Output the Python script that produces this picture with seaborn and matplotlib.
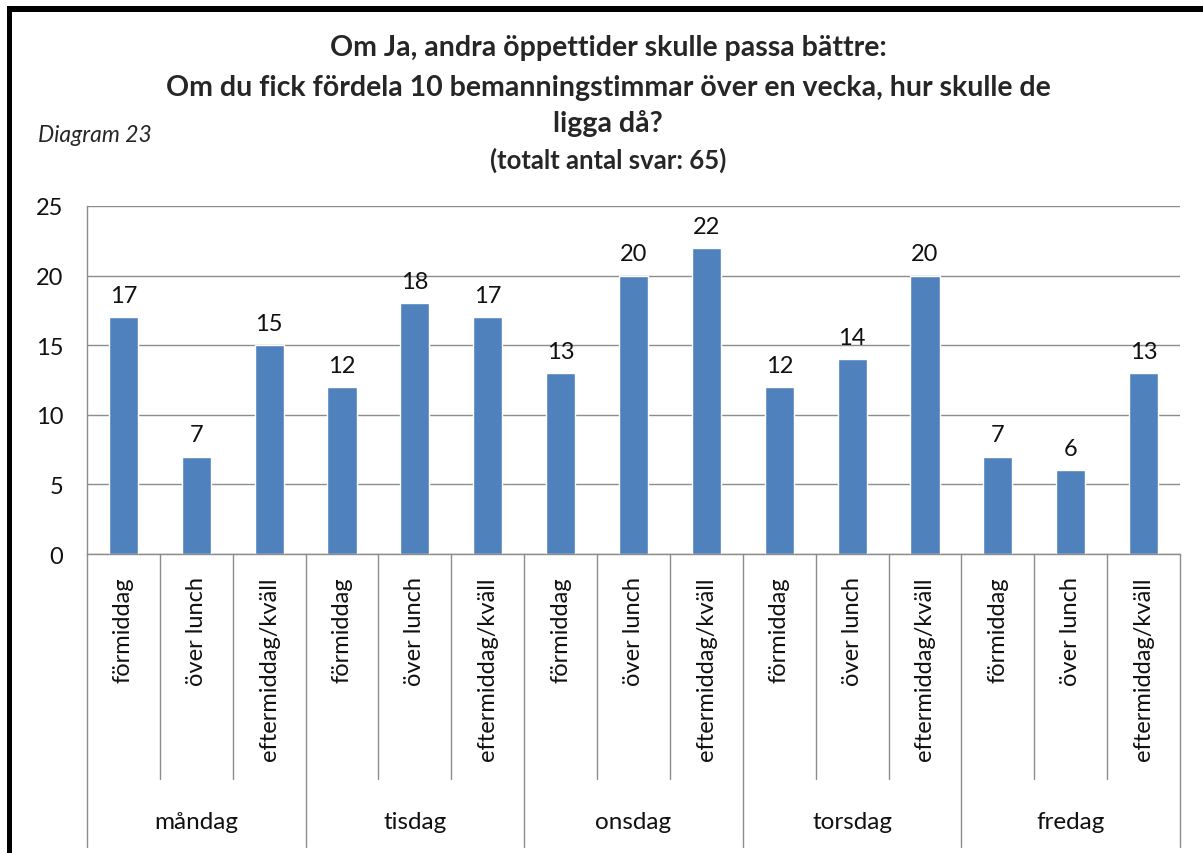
import pandas as pd
import matplotlib
matplotlib.use("Agg")
import matplotlib.pyplot as plt
import matplotlib.transforms as mtransforms
from matplotlib.patches import Rectangle
import seaborn as sns

# -------------------------------
# DATA
# -------------------------------
days = ["måndag", "tisdag", "onsdag", "torsdag", "fredag"]
slots = ["förmiddag", "över lunch", "eftermiddag/kväll"]

mandag = [17, 7, 15]
tisdag = [12, 18, 17]
onsdag = [13, 20, 22]
torsdag = [12, 14, 20]
fredag = [7, 6, 13]

values = [mandag, tisdag, onsdag, torsdag, fredag]

rows = []
for day, vals in zip(days, values):
    for slot, v in zip(slots, vals):
        rows.append({"key": day + "|" + slot, "dag": day, "tid": slot, "antal": v})
df = pd.DataFrame(rows)

# -------------------------------
# STYLE
# -------------------------------
sns.set_style("white")
plt.rcParams["font.family"] = ["Lato", "DejaVu Sans"]

BLUE = "#4F81BD"
GRID = "#8C8C8C"
TXT = "#111111"

W, H = 1203, 854
fig = plt.figure(figsize=(W / 100, H / 100), dpi=100)

ax_left, ax_right = 87 / W, 1180 / W
ax_bottom, ax_top = 1 - 555 / H, 1 - 207 / H
ax = fig.add_axes([ax_left, ax_bottom, ax_right - ax_left, ax_top - ax_bottom])

sns.barplot(
    data=df,
    x="key",
    y="antal",
    color=BLUE,
    saturation=1,
    width=0.4,
    ax=ax,
)

ax.set_xlim(-0.5, len(df) - 0.5)
ax.set_ylim(0, 25)
ax.set_yticks([0, 5, 10, 15, 20, 25])
ax.yaxis.grid(True, color=GRID, lw=1)
ax.set_axisbelow(True)

for s in ["top", "right"]:
    ax.spines[s].set_visible(False)
for s in ["left", "bottom"]:
    ax.spines[s].set_color(GRID)
    ax.spines[s].set_linewidth(1)

ax.set_xlabel("")
ax.set_ylabel("")
ax.tick_params(axis="y", length=7, color=GRID, pad=10, labelsize=17, labelcolor=TXT)
ax.set_xticks(range(len(df)))
ax.set_xticklabels(df["tid"], rotation=90, va="top", ha="center")
ax.tick_params(axis="x", length=0, pad=16, labelsize=17, labelcolor=TXT)

# data labels
for cont in ax.containers:
    ax.bar_label(cont, padding=8, fontsize=17, color=TXT)

# -------------------------------
# GROUPED CATEGORY AXIS
# -------------------------------
trans = mtransforms.blended_transform_factory(ax.transData, ax.transAxes)
sub_bottom = -(780 - 555) / 348
grp_bottom = -(848 - 555) / 348
n = len(df)
for k in range(n + 1):
    x = k - 0.5
    y1 = grp_bottom if k % 3 == 0 else sub_bottom
    ax.plot([x, x], [0, y1], color=GRID, lw=1, transform=trans, clip_on=False)

for i, day in enumerate(days):
    ax.text(3 * i + 1, -(822 - 555) / 348, day, transform=trans,
            ha="center", va="center", fontsize=17.5, color=TXT)

# -------------------------------
# TITLES
# -------------------------------
cx = 608 / W
fig.text(cx, 1 - 48 / H, "Om Ja, andra öppettider skulle passa bättre:",
         ha="center", va="center", fontsize=20.5, fontweight="bold")
fig.text(cx, 1 - 88 / H, "Om du fick fördela 10 bemanningstimmar över en vecka, hur skulle de",
         ha="center", va="center", fontsize=20.5, fontweight="bold")
fig.text(cx, 1 - 124 / H, "ligga då?",
         ha="center", va="center", fontsize=20.5, fontweight="bold")
fig.text(cx, 1 - 160 / H, "(totalt antal svar: 65)",
         ha="center", va="center", fontsize=18.5, fontweight="bold")
fig.text(38 / W, 1 - 136 / H, "Diagram 23",
         ha="left", va="center", fontsize=16.5, style="italic")

# frame
fig.add_artist(Rectangle((7 / W, 1 - 13 / H), 1 - 7 / W, 6 / H,
                         transform=fig.transFigure, color="black", lw=0))
fig.add_artist(Rectangle((7 / W, 0), 5 / W, 1 - 7 / H,
                         transform=fig.transFigure, color="black", lw=0))

fig.savefig("out.png", dpi=100)
